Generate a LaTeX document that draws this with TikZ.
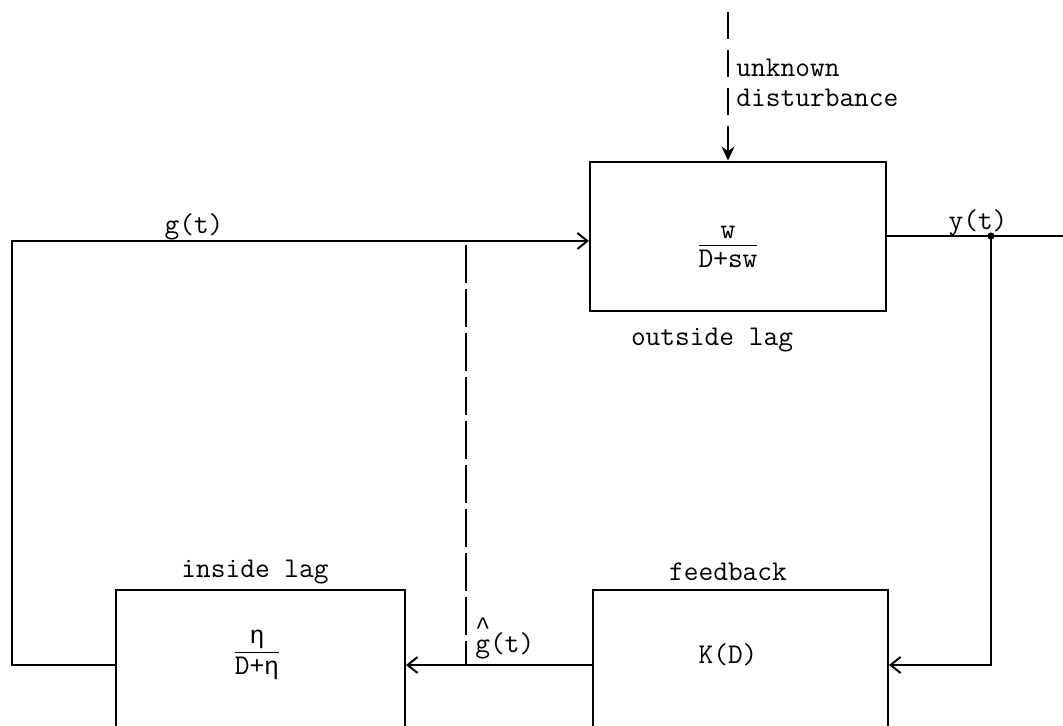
\documentclass[tikz,border=0pt]{standalone}
\usepackage{amsmath}
\usepackage{fontspec}
\newfontfamily\extramono{Liberation Mono}
\newcommand{\etamono}{{\extramono\fontsize{12.5}{15}\selectfont η}}
\newcommand{\hatmono}{{\extramono\fontsize{12.5}{15}\selectfont\textasciicircum}}
\newcommand{\blockfrac}[2]{$\dfrac{\raisebox{-2.5pt}{#1}}{\raisebox{2.5pt}{#2}}$}
\usetikzlibrary{arrows.meta, calc}

\begin{document}
\begin{tikzpicture}[
    x=0.5pt, y=-0.5pt,
    font=\ttfamily\fontsize{14.3}{15}\selectfont,
    lagbox/.style={rectangle, draw, line width=1pt, minimum width=148pt, minimum height=75pt, inner sep=0pt},
    tag/.style={inner sep=0pt},
    wire/.style={line width=1pt},
    arrow/.style={line width=1pt, -{Straight Barb[length=5pt, width=8pt]}},
    guess/.style={line width=0.9pt, dash pattern=on 19pt off 3pt}
]
    \useasboundingbox (0,0) rectangle (1063,725);
    \clip (0,0) rectangle (1063,725);

    % Blocks
    \node (olag) [lagbox, minimum height=74.5pt] at (738,236) {};
    \node (fb) [lagbox, minimum width=147.5pt] at (740.5,665) {};
    \node (ilag) [lagbox, minimum width=144.5pt] at (260.5,665) {};

    % Block contents and names
    \node (olagtf) [tag] at (728,249) {\blockfrac{w}{D+sw}};
    \node (olagname) [tag] at (712,340) {outside lag};
    \node (fbname) [tag] at (728,572) {feedback};
    \node (fbtf) [tag] at (728,655) {K(D)};
    \node (ilagname) [tag] at (255,572) {inside lag};
    \node (ilagtf) [tag] at (257,655) {\blockfrac{\etamono}{D+\etamono}};

    % Signal names
    \node (gtag) [tag, anchor=base] at (194,233) {g(t)};
    \node (ytag) [tag, anchor=base] at (978,229) {y(t)};
    \node (ghtag) [tag, anchor=base west] at (475,652) {\makebox[0pt][l]{\raisebox{9pt}{\hatmono}}g(t)};
    \node (dtag) [tag, anchor=north west, align=left] at (736,59) {unknown\\disturbance};

    % Free ends and corners
    \coordinate (dtop) at (728,12);
    \coordinate (ul) at (12,241);
    \coordinate (yout) at (1063,236);
    \coordinate (ytap) at (991,236);
    \coordinate (ghtop) at (466,245);

    % Connections
    \draw [line width=1pt, dash pattern=on 13.5pt off 5.5pt, -{Stealth[length=7pt, width=6.5pt]}] (dtop) -- (dtop |- olag.north);
    \draw [arrow] (ilag.west) -| (ul) -- (ul -| olag.west);
    \draw [wire] (olag.east) -- (yout);
    \fill (ytap) circle (1.8pt);
    \draw [arrow] (ytap) |- (fb.east);
    \draw [arrow] (fb.west) -- (ilag.east);
    \draw [guess] (ghtop) -- (ghtop |- fb.west);

\end{tikzpicture}
\end{document}
